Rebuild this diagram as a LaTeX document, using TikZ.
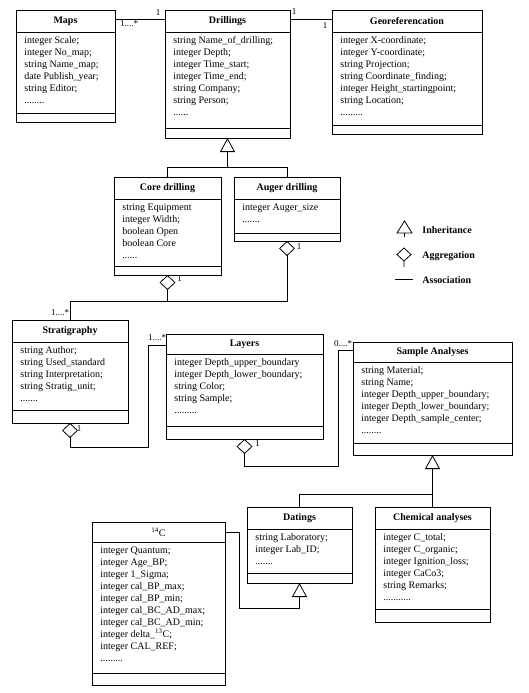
\documentclass[tikz,border=0pt]{standalone}
\usepackage{fontspec}
\setmainfont{Liberation Serif}
\usetikzlibrary{arrows.meta, calc, positioning}

% class box: name, x, y, width, title height, attribute bottom, height, title, attributes
\newcommand{\umlclass}[9]{%
  \node[classbox, minimum width=#4pt, minimum height=#7pt] (#1) at (#2,#3) {};
  \draw ($(#1.north west)+(0,#5)$) -- ($(#1.north east)+(0,#5)$);
  \draw ($(#1.north west)+(0,#6)$) -- ($(#1.north east)+(0,#6)$);
  \node[classtitle] (#1-title) at ($(#1.north)+(0,#5/2)$) {#8};
  \node[classattr] (#1-attr) at ($(#1.north west)+(8,#5+4)$) {#9};
}

\begin{document}
\begin{tikzpicture}[x=1pt, y=-1pt, line width=0.8pt,
    classbox/.style={rectangle, draw, anchor=north west, inner sep=0pt, outer sep=0pt},
    classtitle/.style={inner sep=0pt, font=\bfseries\fontsize{10}{12}\selectfont},
    classattr/.style={anchor=north west, align=left, inner sep=0pt, font=\fontsize{10}{12}\selectfont},
    mult/.style={inner sep=0pt, font=\fontsize{9}{11}\selectfont},
    inherit/.style={-{Triangle[open, length=14pt, width=15pt]}},
    aggr/.style={{Diamond[open, length=15pt, width=16pt]}-},
    legend/.style={anchor=west, inner sep=0pt, font=\bfseries\fontsize{10}{12}\selectfont}]
    \useasboundingbox (0,0) rectangle (529,693);

    \umlclass{maps}{16}{10}{99}{22}{103}{112}{Maps}{integer Scale;\\integer No\_map;\\string Name\_map;\\date Publish\_year;\\string Editor;\\........}
    \umlclass{drillings}{165}{10}{125}{22}{118}{128}{Drillings}{string Name\_of\_drilling;\\integer Depth;\\integer Time\_start;\\integer Time\_end;\\string Company;\\string Person;\\......}
    \umlclass{georef}{332}{10}{150}{22}{115}{124}{Georeferencation}{integer X-coordinate;\\integer Y-coordinate;\\string Projection;\\string Coordinate\_finding;\\integer Height\_startingpoint;\\string Location;\\.........}
    \umlclass{core}{114}{177}{107}{22}{89}{98}{Core drilling}{string Equipment\\integer Width;\\boolean Open\\boolean Core\\......}
    \umlclass{auger}{234}{177}{106}{22}{56}{64}{Auger drilling}{integer Auger\_size\\.......}
    \umlclass{strat}{12}{320}{116}{22}{90}{103}{Stratigraphy}{string Author;\\string Used\_standard\\string Interpretation;\\string Stratig\_unit;\\.......}
    \umlclass{layers}{166}{334}{157}{20}{92}{105}{Layers}{integer Depth\_upper\_boundary\\integer Depth\_lower\_boundary;\\string Color;\\string Sample;\\.........}
    \umlclass{sample}{353}{342}{159}{20}{101}{113}{Sample Analyses}{string Material;\\string Name;\\integer Depth\_upper\_boundary;\\integer Depth\_lower\_boundary;\\integer Depth\_sample\_center;\\........}
    \umlclass{c14}{92}{522}{133}{20}{151}{163}{\mdseries\textsuperscript{14}C}{integer Quantum;\\integer Age\_BP;\\integer 1\_Sigma;\\integer cal\_BP\_max;\\integer cal\_BP\_min;\\integer cal\_BC\_AD\_max;\\integer cal\_BC\_AD\_min;\\integer delta\_\textsuperscript{13}C;\\integer CAL\_REF;\\.........}
    \umlclass{datings}{247}{507}{105}{22}{66}{76}{Datings}{string Laboratory;\\integer Lab\_ID;\\.......}
    \umlclass{chem}{375}{507}{115}{22}{102}{115}{Chemical analyses}{integer C\_total;\\integer C\_organic;\\integer Ignition\_loss;\\integer CaCo3;\\string Remarks;\\...........}

    % associations
    \draw ($(maps.north east)+(0,9)$) -- ($(drillings.north west)+(0,9)$);
    \draw ($(drillings.north east)+(0,9)$) -- ($(georef.north west)+(0,9)$);

    % inheritance
    \coordinate (inh1) at ($(drillings.south)+(0,29)$);
    \draw[inherit] (core.north) |- (inh1) -- (drillings.south);
    \draw (auger.north) |- (inh1);
    \coordinate (inh2) at ($(sample.south)+(0,39)$);
    \draw[inherit] (chem.north) -- (sample.south);
    \draw (datings.north) |- (inh2);
    \draw[inherit] ($(c14.north east)+(0,10)$) -- ++(14,0) |- ($(datings.south)+(0,25)$) -- (datings.south);

    % aggregation
    \draw[aggr] (core.south) -- ++(0,26);
    \draw[aggr] (auger.south) -- ++(0,60) -| (strat.north);
    \draw[aggr] (strat.south) -- ++(0,24) -| ($(layers.north west)+(-18,11)$) -- ($(layers.north west)+(0,11)$);
    \draw[aggr] (layers.south) -- ++(0,27) -| ($(sample.north west)+(-15,8)$) -- ($(sample.north west)+(0,8)$);

    % multiplicities
    \node[mult] (m-maps) at ($(maps.north east)+(14,14)$) {1....*};
    \node[mult] (m-dril1) at ($(drillings.north west)+(-7,3)$) {1};
    \node[mult] (m-dril2) at ($(drillings.north east)+(4,2)$) {1};
    \node[mult] (m-geo) at ($(georef.north west)+(-7,16)$) {1};
    \node[mult] (m-core) at ($(core.south)+(12,4)$) {1};
    \node[mult] (m-auger) at ($(auger.south)+(12,6)$) {1};
    \node[mult] (m-strat1) at ($(strat.north)+(-10,-7)$) {1....*};
    \node[mult] (m-strat2) at ($(strat.south)+(9,6)$) {1};
    \node[mult] (m-layers1) at ($(layers.north west)+(-9,4)$) {1....*};
    \node[mult] (m-layers2) at ($(layers.south)+(13,5)$) {1};
    \node[mult] (m-sample) at ($(sample.north west)+(-10,2)$) {0....*};

    % legend
    \draw (397,233) -- (404.5,221) -- (412,233) -- cycle (404.5,233) -- (404.5,237);
    \draw (404,248) -- (411,254.5) -- (404,261) -- (397,254.5) -- cycle (404,261) -- (404,267);
    \draw (395,279) -- (413,279);
    \node[legend] (leg-inh) at (422,230) {Inheritance};
    \node[legend] (leg-agg) at (422,256) {Aggregation};
    \node[legend] (leg-ass) at (422,280) {Association};
\end{tikzpicture}
\end{document}
